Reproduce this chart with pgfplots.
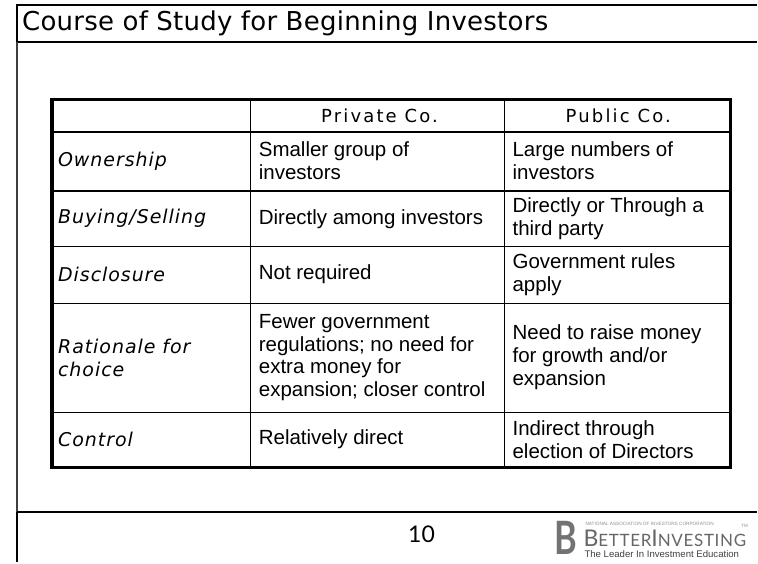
\documentclass[border=0pt]{standalone}
\usepackage{pgfplots}
\pgfplotsset{compat=1.18}
\usepackage{fontspec}
\setmainfont{Liberation Sans}
\newfontfamily\logofont[LetterSpace=4]{Lato}
\newfontfamily\numfont{Lato}
\newfontfamily\titlefont[LetterSpace=1]{DejaVu Sans}
\newfontfamily\labfont[LetterSpace=5]{DejaVu Sans}
\newfontfamily\headfont[LetterSpace=12]{DejaVu Sans}
\begin{document}
\begin{tikzpicture}
\begin{axis}[
  scale only axis, width=758bp, height=563bp,
  xmin=0, xmax=758, ymin=0, ymax=563, y dir=reverse,
  axis line style={draw=none}, ticks=none, clip=false,
]
% slide frame
\addplot[black, line width=1.5bp, line join=miter] coordinates {(17,42) (17,5) (758,5)};
\addplot[black, line width=1.5bp] coordinates {(17,42) (758,42)};
\addplot[black!75, line width=1.2bp] coordinates {(17,42) (17,513)};
\addplot[black, line width=1.8bp] coordinates {(17,513) (17,563)};
\addplot[black, line width=1.8bp] coordinates {(17,513) (758,513)};
% table inner lines
\addplot[black, line width=1.5bp] coordinates {(251,100) (251,468)};
\addplot[black, line width=1.5bp] coordinates {(505,100) (505,468)};
\addplot[black, line width=1.5bp] coordinates {(52,132) (731,132)};
\addplot[black, line width=1.5bp] coordinates {(52,191) (731,191)};
\addplot[black, line width=1.5bp] coordinates {(52,247) (731,247)};
\addplot[black, line width=1.5bp] coordinates {(52,304) (731,304)};
\addplot[black, line width=1.5bp] coordinates {(52,413) (731,413)};
% table border
\addplot[black, line width=3.2bp, line join=miter] coordinates {(52,100) (731,100) (731,468) (52,468)} -- cycle;

% title
\node[anchor=west, inner sep=0pt, font=\titlefont\fontsize{26bp}{28bp}\selectfont] at (axis cs:22,23) {Course of Study for Beginning Investors};

% header
\node[font=\headfont\fontsize{18bp}{20bp}\selectfont] at (axis cs:380,116) {Private Co.};
\node[font=\headfont\fontsize{18bp}{20bp}\selectfont] at (axis cs:619,116) {Public Co.};

% row labels
\tikzset{lab/.style={anchor=west, align=left, inner sep=0pt, font=\labfont\itshape\fontsize{19bp}{23bp}\selectfont}}
\node[lab] at (axis cs:58,161) {Ownership};
\node[lab] at (axis cs:58,219) {Buying/Selling};
\node[lab] at (axis cs:58,275) {Disclosure};
\node[lab] at (axis cs:58,358) {Rationale for\\choice};
\node[lab] at (axis cs:58,440) {Control};

% cells
\tikzset{cell/.style={anchor=west, align=left, inner sep=0pt, font=\fontsize{20.5bp}{23bp}\selectfont}}
\node[cell] at (axis cs:259,161) {Smaller group of\\investors};
\node[cell] at (axis cs:259,219) {Directly among investors};
\node[cell] at (axis cs:259,275) {Not required};
\node[cell] at (axis cs:259,358) {Fewer government\\regulations; no need for\\extra money for\\expansion; closer control};
\node[cell] at (axis cs:259,440) {Relatively direct};

\node[cell] at (axis cs:513,161) {Large numbers of\\investors};
\node[cell] at (axis cs:513,219) {Directly or Through a\\third party};
\node[cell] at (axis cs:513,275) {Government rules\\apply};
\node[cell] at (axis cs:513,358) {Need to raise money\\for growth and/or\\expansion};
\node[cell] at (axis cs:513,440) {Indirect through\\election of Directors};

% footer
\node[font=\numfont\fontsize{23bp}{25bp}\selectfont] at (axis cs:422,535) {10};
\node[anchor=base, inner sep=0pt, font=\numfont\bfseries\fontsize{46bp}{46bp}\selectfont, text=black!55] at (axis cs:567,555) {\scalebox{0.75}[1]{B}};
\node[anchor=base west, inner sep=0pt, text=black!60, font=\logofont] at (axis cs:584,547) {\fontsize{23bp}{23bp}\selectfont B\fontsize{17bp}{17bp}\selectfont ETTER\fontsize{23bp}{23bp}\selectfont I\fontsize{17bp}{17bp}\selectfont NVESTING};
\node[anchor=west, inner sep=0pt, text=black!45, font=\fontsize{4.7bp}{5bp}\selectfont] at (axis cs:586,524) {NATIONAL ASSOCIATION OF INVESTORS CORPORATION};
\node[anchor=west, inner sep=0pt, text=black!45, font=\fontsize{4.5bp}{5bp}\selectfont] at (axis cs:742,527) {TM};
\node[anchor=west, inner sep=0pt, text=black!75, font=\fontsize{9.6bp}{10bp}\selectfont] at (axis cs:585,555) {The Leader In Investment Education};
\end{axis}
\end{tikzpicture}
\end{document}
